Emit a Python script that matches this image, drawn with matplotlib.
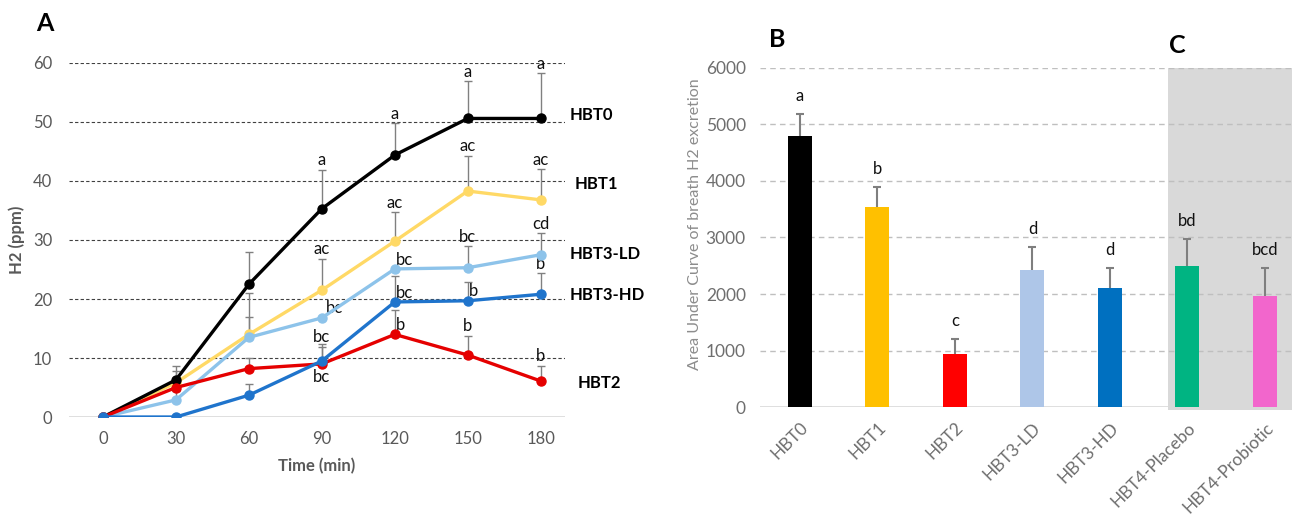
"""Breath H2 curves (A) and area under curve per test (B, C)."""
import numpy as np
import matplotlib
matplotlib.use('Agg')
from matplotlib import pyplot as plt
from matplotlib.patches import Rectangle

# ---- panel A data -------------------------------------------------------
time_min = [0, 30, 60, 90, 120, 150, 180]

hbt0 = [0, 6.3, 22.5, 35.3, 44.4, 50.6, 50.6]
hbt0_err = [0, 2.3, 5.5, 6.6, 5.4, 6.3, 7.7]
hbt0_lab = ['', '', '', 'a', 'a', 'a', 'a']

hbt1 = [0, 5.8, 14.0, 21.5, 29.8, 38.3, 36.8]
hbt1_err = [0, 2.0, 7.0, 5.3, 4.9, 6.0, 5.2]
hbt1_lab = ['', '', '', 'ac', 'ac', 'ac', 'ac']

hbt3_ld = [0, 2.9, 13.5, 16.8, 25.1, 25.3, 27.5]
hbt3_ld_err = [0, 1.5, 3.5, 0, 0, 3.7, 3.7]
hbt3_ld_lab = ['', '', '', 'bc', 'bc', 'bc', 'cd']

hbt2 = [0, 5.0, 8.2, 9.0, 14.0, 10.5, 6.1]
hbt2_err = [0, 1.5, 1.8, 3.3, 4.1, 3.3, 2.6]
hbt2_lab = ['', '', '', 'bc', 'b', 'b', 'b']

hbt3_hd = [0, 0, 3.7, 9.5, 19.5, 19.7, 20.8]
hbt3_hd_err = [0, 0, 1.9, 2.4, 4.4, 3.2, 3.6]
hbt3_hd_lab = ['', '', '', 'bc', 'bc', 'b', 'b']

# ---- panel B/C data -----------------------------------------------------
groups = ['HBT0', 'HBT1', 'HBT2', 'HBT3-LD', 'HBT3-HD',
          'HBT4-Placebo', 'HBT4-Probiotic']
auc = [4800, 3545, 943, 2425, 2100, 2496, 1965]
auc_err = [380, 350, 265, 405, 355, 470, 490]
auc_lab = ['a', 'b', 'c', 'd', 'd', 'bd', 'bcd']
bar_colors = ['#000000', '#FFC000', '#FF0000', '#AEC6E8', '#0070C0',
              '#00B482', '#F266CC']


def main():
    plt.rcParams['font.family'] = ['Lato', 'DejaVu Sans']
    fig = plt.figure(figsize=(12.92, 5.21), dpi=100)

    # ---------------- panel A ----------------
    ax = fig.add_axes([0.0534, 0.1996, 0.3839, 0.6795])
    ax.set_xlim(-14, 190)
    ax.set_ylim(0, 60)
    for s in ax.spines.values():
        s.set_visible(False)
    ax.set_yticks(range(0, 61, 10))
    ax.set_xticks(time_min)
    ax.tick_params(length=0, labelsize=12, labelcolor='#595959')
    ax.tick_params(axis='y', pad=12)
    ax.tick_params(axis='x', pad=10)
    for g in range(10, 61, 10):
        ax.axhline(g, color='#404040', lw=0.8, ls=(0, (3, 2)), zorder=0)
    ax.axhline(0, color='#d9d9d9', lw=1.2, zorder=0)

    series = [
        ('HBT1', hbt1, hbt1_err, hbt1_lab, '#FFD966', 39.5),
        ('HBT0', hbt0, hbt0_err, hbt0_lab, '#000000', 51.2),
        ('HBT3-LD', hbt3_ld, hbt3_ld_err, hbt3_ld_lab, '#8DC3EA', 27.6),
        ('HBT2', hbt2, hbt2_err, hbt2_lab, '#E50000', 5.8),
        ('HBT3-HD', hbt3_hd, hbt3_hd_err, hbt3_hd_lab, '#1F74CC', 20.6),
    ]
    # where the significance letter sits relative to the point
    place = {
        ('HBT3-LD', 90): 'right', ('HBT3-LD', 120): 'right',
        ('HBT3-HD', 120): 'right', ('HBT3-HD', 150): 'right',
        ('HBT2', 120): 'right', ('HBT2', 90): 'below',
    }
    label_x = {'HBT0': 192, 'HBT1': 194, 'HBT3-LD': 192,
               'HBT3-HD': 192, 'HBT2': 195}

    for name, y, err, labs, color, ly in series:
        y = np.array(y)
        err = np.array(err)
        ax.errorbar(time_min, y, yerr=[np.zeros_like(err), err], fmt='none',
                    ecolor='#808080', elinewidth=1, capsize=3, capthick=1,
                    zorder=3)
        ax.plot(time_min, y, color=color, lw=2.4, marker='o', ms=6.5,
                zorder=4)
        for t, v, e, lab in zip(time_min, y, err, labs):
            if not lab:
                continue
            where = place.get((name, t), 'above')
            if where == 'above':
                ax.annotate(lab, (t, v + e), xytext=(0, 1),
                            textcoords='offset points', ha='center',
                            va='bottom', fontsize=12, color='#111111')
            elif where == 'right':
                dx = 3 if t == 90 else 1
                ax.annotate(lab, (t, v), xytext=(dx, 1),
                            textcoords='offset points', ha='left',
                            va='bottom', fontsize=12, color='#111111')
            else:
                ax.annotate(lab, (t, v), xytext=(0, -4),
                            textcoords='offset points', ha='center',
                            va='top', fontsize=12, color='#111111')
        ax.text(label_x[name], ly, name, fontsize=12, fontweight='bold',
                ha='left', va='center', clip_on=False)

    ax.set_xlabel('Time (min)', fontsize=12, fontweight='bold',
                  color='#595959', labelpad=8)
    ax.set_ylabel('H2 (ppm)', fontsize=12, fontweight='bold',
                  color='#595959', labelpad=6)
    fig.text(0.028, 0.955, 'A', fontsize=18, fontweight='bold',
             va='center')

    # ---------------- panel B / C ----------------
    bx = fig.add_axes([0.588, 0.2188, 0.412, 0.6507])
    x = np.arange(len(groups))
    bx.set_xlim(-0.52, 6.35)
    bx.set_ylim(0, 6000)
    for s in bx.spines.values():
        s.set_visible(False)
    bx.add_patch(Rectangle((4.75, -60), 2.0, 6060, facecolor='#D9D9D9',
                           edgecolor='none', zorder=0, clip_on=False))
    for g in range(1000, 6001, 1000):
        bx.axhline(g, color='#BFBFBF', lw=1, ls=(0, (4, 3)), zorder=1)
    bx.axhline(0, color='#D9D9D9', lw=1.2, zorder=1)
    bx.bar(x, auc, width=0.31, color=bar_colors, zorder=2)
    tops = np.array(auc) + np.array(auc_err)
    bx.vlines(x, auc, tops, color='#7F7F7F', lw=1.5, zorder=3)
    bx.plot(x, tops, ls='none', marker='_', ms=6, mew=1.5,
            color='#7F7F7F', zorder=3)
    for xi, top, lab in zip(x, tops, auc_lab):
        bx.annotate(lab, (xi, top), xytext=(0, 13),
                    textcoords='offset points', ha='center', va='center',
                    fontsize=12, color='#111111')
    bx.set_yticks(range(0, 6001, 1000))
    bx.set_xticks(x)
    bx.set_xticklabels(groups, rotation=45, ha='right',
                       rotation_mode='anchor')
    bx.tick_params(length=0, labelsize=12.5, labelcolor='#6E6E6E')
    bx.tick_params(axis='y', pad=10)
    bx.tick_params(axis='x', pad=9)
    bx.set_ylabel('Area Under Curve of breath H2 excretion', fontsize=11.5,
                  color='#8C8C8C')
    bx.yaxis.set_label_coords(-0.108, 0.54)
    fig.text(0.595, 0.925, 'B', fontsize=18, fontweight='bold',
             va='center')
    fig.text(0.905, 0.912, 'C', fontsize=18, fontweight='bold',
             va='center')

    fig.savefig('out.png', dpi=100)


if __name__ == '__main__':
    main()
